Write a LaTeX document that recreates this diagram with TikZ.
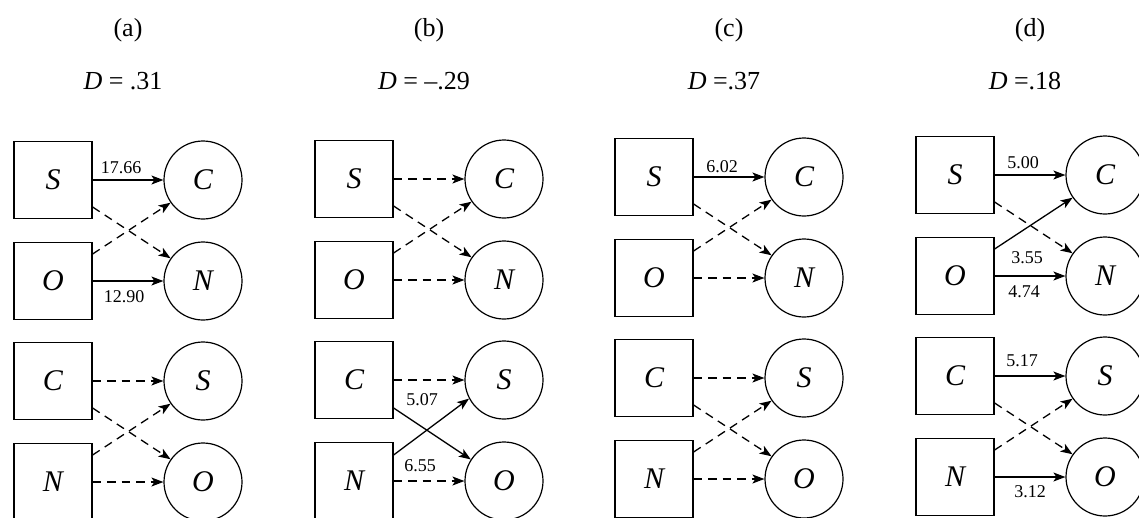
\documentclass[tikz,border=0pt]{standalone}
\usepackage{fontspec}
\setmainfont{Liberation Serif}
\usetikzlibrary{arrows.meta,calc}
\tikzset{
  box/.style={draw,line width=1.2pt,minimum width=78pt,minimum height=77pt,inner sep=0pt,font=\fontsize{30}{30}\selectfont\itshape},
  circ/.style={draw,circle,line width=1.2pt,minimum size=78pt,inner sep=0pt,font=\fontsize{30}{30}\selectfont\itshape},
  sol/.style={line width=1.3pt,-{Stealth[length=12pt,width=9pt,inset=3pt]}},
  das/.style={sol,dash pattern=on 8.5pt off 6pt},
  lab/.style={font=\fontsize{18}{18}\selectfont,inner sep=0pt},
  ttl/.style={font=\fontsize{26}{26}\selectfont,inner sep=0pt}
}
\newcommand\mkpanel[5]{%
  \node[ttl] (#1t) at ({#2+75},30) {#4};
  \node[ttl] (#1d) at ({#2+70},81) {#5};
  \node[box] (#1bS) at ({#2},{180+(#3)}) {S};
  \node[box] (#1bO) at ({#2},{281+(#3)}) {O};
  \node[box] (#1bC) at ({#2},{381+(#3)}) {C};
  \node[box] (#1bN) at ({#2},{482+(#3)}) {N};
  \node[circ] (#1cC) at ({#2+150},{180+(#3)}) {C};
  \node[circ] (#1cN) at ({#2+150},{281+(#3)}) {N};
  \node[circ] (#1cS) at ({#2+150},{381+(#3)}) {S};
  \node[circ] (#1cO) at ({#2+150},{482+(#3)}) {O};
}
\begin{document}
\begin{tikzpicture}[x=1pt,y=-1pt]
\useasboundingbox (0,0) rectangle (1139,517);
% panel a
\mkpanel{a}{53}{0}{(a)}{\textit{D} = .31}
\draw[sol] (abS) -- (acC);
\draw[das] ($(abS.east)+(0,27)$) -- (acN.145);
\draw[das] ($(abO.east)+(0,-27)$) -- (acC.215);
\draw[sol] (abO) -- (acN);
\draw[das] (abC) -- (acS);
\draw[das] ($(abC.east)+(0,27)$) -- (acO.145);
\draw[das] ($(abN.east)+(0,-27)$) -- (acS.215);
\draw[das] (abN) -- (acO);
\node[lab] (la1) at (121,168) {17.66};
\node[lab] (la2) at (124,297) {12.90};
% panel b
\mkpanel{b}{354}{-1}{(b)}{\textit{D} = –.29}
\draw[das] (bbS) -- (bcC);
\draw[das] ($(bbS.east)+(0,27)$) -- (bcN.145);
\draw[das] ($(bbO.east)+(0,-27)$) -- (bcC.215);
\draw[das] (bbO) -- (bcN);
\draw[das] (bbC) -- (bcS);
\draw[sol] ($(bbC.east)+(0,28)$) -- (bcO.147);
\draw[sol] ($(bbN.east)+(0,-26)$) -- (bcS.208);
\draw[das] (bbN) -- (bcO);
\node[lab] (lb1) at (422,400) {5.07};
\node[lab] (lb2) at (420,466) {6.55};
% panel c
\mkpanel{c}{654}{-3}{(c)}{\textit{D} =.37}
\draw[sol] (cbS) -- (ccC);
\draw[das] ($(cbS.east)+(0,27)$) -- (ccN.145);
\draw[das] ($(cbO.east)+(0,-27)$) -- (ccC.215);
\draw[das] (cbO) -- (ccN);
\draw[das] (cbC) -- (ccS);
\draw[das] ($(cbC.east)+(0,27)$) -- (ccO.145);
\draw[das] ($(cbN.east)+(0,-27)$) -- (ccS.215);
\draw[das] (cbN) -- (ccO);
\node[lab] (lc1) at (722,167) {6.02};
% panel d
\mkpanel{d}{955}{-5}{(d)}{\textit{D} =.18}
\draw[sol] (dbS) -- (dcC);
\draw[das] ($(dbS.east)+(0,27)$) -- (dcN.145);
\draw[sol] ($(dbO.east)+(0,-27)$) -- (dcC.215);
\draw[sol] (dbO) -- (dcN);
\draw[sol] (dbC) -- (dcS);
\draw[das] ($(dbC.east)+(0,27)$) -- (dcO.145);
\draw[das] ($(dbN.east)+(0,-27)$) -- (dcS.215);
\draw[sol] (dbN) -- (dcO);
\node[lab] (ld1) at (1023,163) {5.00};
\node[lab] (ld2) at (1027,258) {3.55};
\node[lab] (ld3) at (1024,292) {4.74};
\node[lab] (ld4) at (1022,361) {5.17};
\node[lab] (ld5) at (1030,492) {3.12};
\end{tikzpicture}
\end{document}
